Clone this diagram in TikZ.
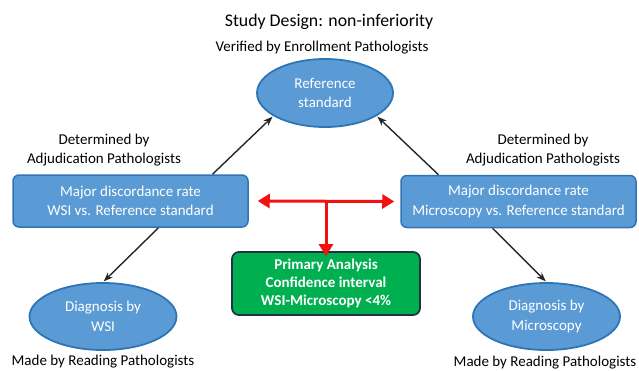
\documentclass[tikz,border=0pt]{standalone}
\usepackage{fontspec}
\setmainfont{Carlito}
\usetikzlibrary{arrows.meta,shapes.geometric}

\definecolor{fillblue}{HTML}{5B9BD5}
\definecolor{edgeblue}{HTML}{2E75B6}
\definecolor{fillgreen}{HTML}{00B050}
\definecolor{edgegreen}{HTML}{1F3345}
\definecolor{arrowred}{HTML}{F21010}

\begin{document}
\begin{tikzpicture}[x=1pt,y=-1pt,>=Stealth,
    every node/.style={font=\fontsize{15}{19.5}\selectfont,align=center},
    oval/.style={ellipse,draw=edgeblue,line width=1.8pt,fill=fillblue,text=white,inner sep=0pt},
    ratebox/.style={rectangle,rounded corners=6pt,draw=edgeblue,line width=1.5pt,fill=fillblue,text=white,minimum width=235pt,minimum height=52pt},
    resultbox/.style={rectangle,rounded corners=7pt,draw=edgegreen,line width=1.8pt,fill=fillgreen,text=white,font=\fontsize{15}{18}\selectfont\bfseries,minimum width=188pt,minimum height=63pt},
    link/.style={->,line width=1.4pt,black!85,shorten >=1pt},
    compare/.style={line width=3pt,arrowred}]

    \useasboundingbox (0,0) rectangle (639,370);

    % Title
    \node (title) [font=\fontsize{17.8}{20}\selectfont] at (329,22) {Study Design: non-inferiority};

    % Reference standard
    \node (refnote) at (322,48) {Verified by Enrollment Pathologists};
    \node (ref) [oval,minimum width=136pt,minimum height=68pt] at (325,93) {Reference\\standard};

    % Discordance rates
    \node (lnote) at (104,150) {Determined by\\Adjudication Pathologists};
    \node (rnote) at (543,150) {Determined by\\Adjudication Pathologists};
    \node (lrate) [ratebox] at (130.5,201) {Major discordance rate\\WSI vs. Reference standard};
    \node (rrate) [ratebox] at (518.5,201.5) {Major discordance rate\\Microscopy vs. Reference standard};

    % Primary analysis
    \node (primary) [resultbox] at (326,283.5) {Primary Analysis\\Confidence interval\\WSI-Microscopy <4\%};

    % Diagnoses
    \node (ldiag) [oval,minimum width=147pt,minimum height=67pt] at (103,316.5) {Diagnosis by\\WSI};
    \node (rdiag) [oval,minimum width=147pt,minimum height=67pt] at (546.5,316.5) {Diagnosis by\\Microscopy};
    \node (lmade) at (103,362) {Made by Reading Pathologists};
    \node (rmade) at (545,363) {Made by Reading Pathologists};

    % Black arrows
    \draw [link] ([xshift=82pt]lrate.north) -- (ref.204);
    \draw [link] ([xshift=-80pt]rrate.north) -- (ref.336);
    \draw [link] ([xshift=28pt]lrate.south) -- (ldiag.north);
    \draw [link] ([xshift=-26pt]rrate.south) -- (rdiag.north);

    % Red comparison arrows
    \coordinate (split) at (primary.north |- lrate.east);
    \draw [compare,{Triangle[length=12pt,width=14pt]}-{Triangle[length=12pt,width=14pt]}]
        ([xshift=9pt]lrate.east) -- ([xshift=-6pt]rrate.west);
    \draw [compare,-{Triangle[length=12pt,width=14pt]}] (split) -- ([yshift=-5pt]primary.north);

\end{tikzpicture}
\end{document}
